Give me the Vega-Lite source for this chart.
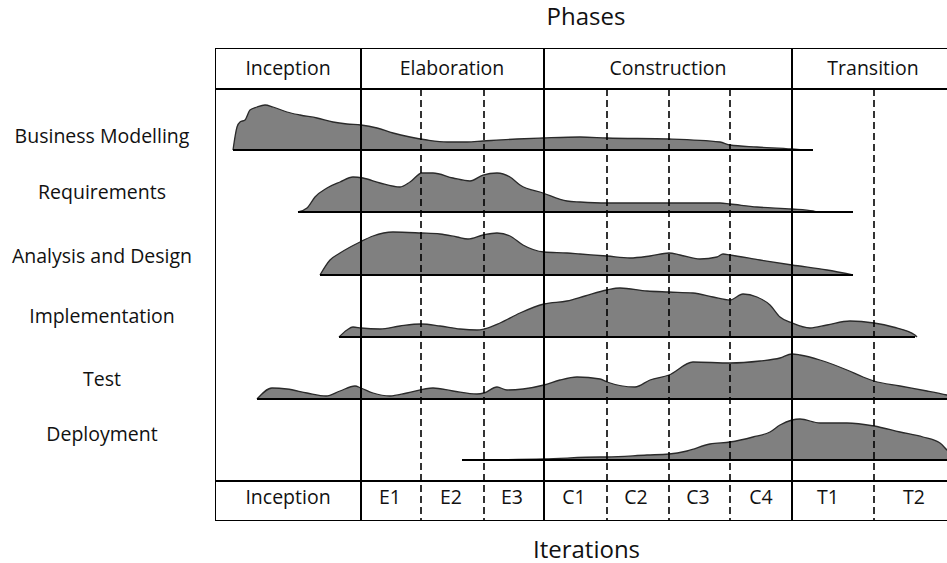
{
  "$schema": "https://vega.github.io/schema/vega-lite/v6.json",
  "width": 732,
  "height": 473,
  "autosize": "none",
  "padding": {"left": 215, "top": 48, "right": 0, "bottom": 42},
  "background": "white",
  "title": {"text": "Phases", "fontSize": 24, "font": "Open Sans", "fontWeight": "normal", "color": "#111", "anchor": "middle", "baseline": "alphabetic", "offset": -1, "dx": 5},
  "config": {
    "view": {"stroke": null},
    "axisX": {"labels": false, "ticks": false, "domain": false, "grid": false, "titleFontSize": 24, "titleFont": "Open Sans", "titleFontWeight": "normal", "titleColor": "#111", "titlePadding": 17, "titleX": 371, "titleAlign": "center"},
    "text": {"font": "Open Sans"}
  },
  "datasets": {
    "humps": [
      {"activity": "Business Modelling", "t": 18, "top": 102, "base": 102},
      {"activity": "Business Modelling", "t": 22, "top": 79, "base": 102},
      {"activity": "Business Modelling", "t": 25, "top": 74, "base": 102},
      {"activity": "Business Modelling", "t": 30, "top": 72, "base": 102},
      {"activity": "Business Modelling", "t": 35, "top": 62, "base": 102},
      {"activity": "Business Modelling", "t": 42, "top": 59, "base": 102},
      {"activity": "Business Modelling", "t": 50, "top": 57, "base": 102},
      {"activity": "Business Modelling", "t": 58, "top": 59, "base": 102},
      {"activity": "Business Modelling", "t": 72, "top": 64, "base": 102},
      {"activity": "Business Modelling", "t": 85, "top": 67, "base": 102},
      {"activity": "Business Modelling", "t": 102, "top": 70, "base": 102},
      {"activity": "Business Modelling", "t": 118, "top": 74, "base": 102},
      {"activity": "Business Modelling", "t": 132, "top": 76, "base": 102},
      {"activity": "Business Modelling", "t": 146, "top": 77, "base": 102},
      {"activity": "Business Modelling", "t": 162, "top": 80, "base": 102},
      {"activity": "Business Modelling", "t": 178, "top": 85, "base": 102},
      {"activity": "Business Modelling", "t": 195, "top": 89, "base": 102},
      {"activity": "Business Modelling", "t": 212, "top": 92, "base": 102},
      {"activity": "Business Modelling", "t": 232, "top": 94, "base": 102},
      {"activity": "Business Modelling", "t": 252, "top": 94, "base": 102},
      {"activity": "Business Modelling", "t": 268, "top": 93, "base": 102},
      {"activity": "Business Modelling", "t": 302, "top": 91, "base": 102},
      {"activity": "Business Modelling", "t": 328, "top": 90, "base": 102},
      {"activity": "Business Modelling", "t": 365, "top": 89, "base": 102},
      {"activity": "Business Modelling", "t": 392, "top": 90, "base": 102},
      {"activity": "Business Modelling", "t": 454, "top": 91, "base": 102},
      {"activity": "Business Modelling", "t": 505, "top": 94, "base": 102},
      {"activity": "Business Modelling", "t": 515, "top": 97, "base": 102},
      {"activity": "Business Modelling", "t": 542, "top": 99, "base": 102},
      {"activity": "Business Modelling", "t": 577, "top": 101, "base": 102},
      {"activity": "Business Modelling", "t": 588, "top": 102, "base": 102},

      {"activity": "Requirements", "t": 83, "top": 164, "base": 164},
      {"activity": "Requirements", "t": 92, "top": 160, "base": 164},
      {"activity": "Requirements", "t": 100, "top": 149, "base": 164},
      {"activity": "Requirements", "t": 112, "top": 140, "base": 164},
      {"activity": "Requirements", "t": 125, "top": 134, "base": 164},
      {"activity": "Requirements", "t": 138, "top": 129, "base": 164},
      {"activity": "Requirements", "t": 148, "top": 130, "base": 164},
      {"activity": "Requirements", "t": 165, "top": 135, "base": 164},
      {"activity": "Requirements", "t": 185, "top": 139, "base": 164},
      {"activity": "Requirements", "t": 195, "top": 134, "base": 164},
      {"activity": "Requirements", "t": 207, "top": 125, "base": 164},
      {"activity": "Requirements", "t": 218, "top": 125, "base": 164},
      {"activity": "Requirements", "t": 238, "top": 130, "base": 164},
      {"activity": "Requirements", "t": 255, "top": 133, "base": 164},
      {"activity": "Requirements", "t": 268, "top": 127, "base": 164},
      {"activity": "Requirements", "t": 282, "top": 125, "base": 164},
      {"activity": "Requirements", "t": 295, "top": 129, "base": 164},
      {"activity": "Requirements", "t": 305, "top": 137, "base": 164},
      {"activity": "Requirements", "t": 328, "top": 145, "base": 164},
      {"activity": "Requirements", "t": 352, "top": 153, "base": 164},
      {"activity": "Requirements", "t": 365, "top": 154, "base": 164},
      {"activity": "Requirements", "t": 392, "top": 155, "base": 164},
      {"activity": "Requirements", "t": 454, "top": 155, "base": 164},
      {"activity": "Requirements", "t": 505, "top": 155, "base": 164},
      {"activity": "Requirements", "t": 515, "top": 156, "base": 164},
      {"activity": "Requirements", "t": 542, "top": 159, "base": 164},
      {"activity": "Requirements", "t": 577, "top": 161, "base": 164},
      {"activity": "Requirements", "t": 598, "top": 163, "base": 164},
      {"activity": "Requirements", "t": 602, "top": 164, "base": 164},

      {"activity": "Analysis and Design", "t": 105, "top": 227, "base": 227},
      {"activity": "Analysis and Design", "t": 115, "top": 212, "base": 227},
      {"activity": "Analysis and Design", "t": 125, "top": 205, "base": 227},
      {"activity": "Analysis and Design", "t": 145, "top": 194, "base": 227},
      {"activity": "Analysis and Design", "t": 158, "top": 188, "base": 227},
      {"activity": "Analysis and Design", "t": 178, "top": 184, "base": 227},
      {"activity": "Analysis and Design", "t": 206, "top": 185, "base": 227},
      {"activity": "Analysis and Design", "t": 225, "top": 186, "base": 227},
      {"activity": "Analysis and Design", "t": 242, "top": 189, "base": 227},
      {"activity": "Analysis and Design", "t": 253, "top": 191, "base": 227},
      {"activity": "Analysis and Design", "t": 268, "top": 187, "base": 227},
      {"activity": "Analysis and Design", "t": 282, "top": 185, "base": 227},
      {"activity": "Analysis and Design", "t": 295, "top": 188, "base": 227},
      {"activity": "Analysis and Design", "t": 308, "top": 197, "base": 227},
      {"activity": "Analysis and Design", "t": 329, "top": 204, "base": 227},
      {"activity": "Analysis and Design", "t": 352, "top": 205, "base": 227},
      {"activity": "Analysis and Design", "t": 365, "top": 206, "base": 227},
      {"activity": "Analysis and Design", "t": 392, "top": 208, "base": 227},
      {"activity": "Analysis and Design", "t": 415, "top": 210, "base": 227},
      {"activity": "Analysis and Design", "t": 435, "top": 208, "base": 227},
      {"activity": "Analysis and Design", "t": 454, "top": 205, "base": 227},
      {"activity": "Analysis and Design", "t": 465, "top": 207, "base": 227},
      {"activity": "Analysis and Design", "t": 485, "top": 211, "base": 227},
      {"activity": "Analysis and Design", "t": 502, "top": 209, "base": 227},
      {"activity": "Analysis and Design", "t": 508, "top": 206, "base": 227},
      {"activity": "Analysis and Design", "t": 515, "top": 207, "base": 227},
      {"activity": "Analysis and Design", "t": 545, "top": 212, "base": 227},
      {"activity": "Analysis and Design", "t": 577, "top": 217, "base": 227},
      {"activity": "Analysis and Design", "t": 612, "top": 222, "base": 227},
      {"activity": "Analysis and Design", "t": 638, "top": 227, "base": 227},

      {"activity": "Implementation", "t": 124, "top": 289, "base": 289},
      {"activity": "Implementation", "t": 132, "top": 282, "base": 289},
      {"activity": "Implementation", "t": 138, "top": 279, "base": 289},
      {"activity": "Implementation", "t": 146, "top": 280, "base": 289},
      {"activity": "Implementation", "t": 165, "top": 281, "base": 289},
      {"activity": "Implementation", "t": 185, "top": 278, "base": 289},
      {"activity": "Implementation", "t": 206, "top": 276, "base": 289},
      {"activity": "Implementation", "t": 225, "top": 278, "base": 289},
      {"activity": "Implementation", "t": 245, "top": 281, "base": 289},
      {"activity": "Implementation", "t": 262, "top": 282, "base": 289},
      {"activity": "Implementation", "t": 269, "top": 281, "base": 289},
      {"activity": "Implementation", "t": 285, "top": 275, "base": 289},
      {"activity": "Implementation", "t": 305, "top": 265, "base": 289},
      {"activity": "Implementation", "t": 329, "top": 256, "base": 289},
      {"activity": "Implementation", "t": 352, "top": 253, "base": 289},
      {"activity": "Implementation", "t": 370, "top": 248, "base": 289},
      {"activity": "Implementation", "t": 392, "top": 242, "base": 289},
      {"activity": "Implementation", "t": 405, "top": 240, "base": 289},
      {"activity": "Implementation", "t": 432, "top": 243, "base": 289},
      {"activity": "Implementation", "t": 454, "top": 244, "base": 289},
      {"activity": "Implementation", "t": 478, "top": 245, "base": 289},
      {"activity": "Implementation", "t": 498, "top": 249, "base": 289},
      {"activity": "Implementation", "t": 515, "top": 252, "base": 289},
      {"activity": "Implementation", "t": 528, "top": 246, "base": 289},
      {"activity": "Implementation", "t": 542, "top": 249, "base": 289},
      {"activity": "Implementation", "t": 555, "top": 257, "base": 289},
      {"activity": "Implementation", "t": 565, "top": 269, "base": 289},
      {"activity": "Implementation", "t": 577, "top": 275, "base": 289},
      {"activity": "Implementation", "t": 595, "top": 280, "base": 289},
      {"activity": "Implementation", "t": 612, "top": 277, "base": 289},
      {"activity": "Implementation", "t": 635, "top": 273, "base": 289},
      {"activity": "Implementation", "t": 659, "top": 275, "base": 289},
      {"activity": "Implementation", "t": 678, "top": 279, "base": 289},
      {"activity": "Implementation", "t": 700, "top": 287, "base": 289},
      {"activity": "Implementation", "t": 702, "top": 289, "base": 289},

      {"activity": "Test", "t": 42, "top": 351, "base": 351},
      {"activity": "Test", "t": 57, "top": 340, "base": 351},
      {"activity": "Test", "t": 72, "top": 341, "base": 351},
      {"activity": "Test", "t": 92, "top": 345, "base": 351},
      {"activity": "Test", "t": 111, "top": 348, "base": 351},
      {"activity": "Test", "t": 125, "top": 343, "base": 351},
      {"activity": "Test", "t": 140, "top": 338, "base": 351},
      {"activity": "Test", "t": 146, "top": 340, "base": 351},
      {"activity": "Test", "t": 158, "top": 345, "base": 351},
      {"activity": "Test", "t": 175, "top": 348, "base": 351},
      {"activity": "Test", "t": 192, "top": 345, "base": 351},
      {"activity": "Test", "t": 218, "top": 340, "base": 351},
      {"activity": "Test", "t": 238, "top": 343, "base": 351},
      {"activity": "Test", "t": 262, "top": 346, "base": 351},
      {"activity": "Test", "t": 269, "top": 345, "base": 351},
      {"activity": "Test", "t": 282, "top": 339, "base": 351},
      {"activity": "Test", "t": 292, "top": 342, "base": 351},
      {"activity": "Test", "t": 308, "top": 341, "base": 351},
      {"activity": "Test", "t": 329, "top": 337, "base": 351},
      {"activity": "Test", "t": 345, "top": 332, "base": 351},
      {"activity": "Test", "t": 362, "top": 329, "base": 351},
      {"activity": "Test", "t": 385, "top": 331, "base": 351},
      {"activity": "Test", "t": 392, "top": 334, "base": 351},
      {"activity": "Test", "t": 420, "top": 339, "base": 351},
      {"activity": "Test", "t": 435, "top": 332, "base": 351},
      {"activity": "Test", "t": 454, "top": 327, "base": 351},
      {"activity": "Test", "t": 478, "top": 314, "base": 351},
      {"activity": "Test", "t": 515, "top": 315, "base": 351},
      {"activity": "Test", "t": 545, "top": 313, "base": 351},
      {"activity": "Test", "t": 565, "top": 310, "base": 351},
      {"activity": "Test", "t": 577, "top": 306, "base": 351},
      {"activity": "Test", "t": 585, "top": 307, "base": 351},
      {"activity": "Test", "t": 605, "top": 312, "base": 351},
      {"activity": "Test", "t": 632, "top": 322, "base": 351},
      {"activity": "Test", "t": 648, "top": 329, "base": 351},
      {"activity": "Test", "t": 659, "top": 333, "base": 351},
      {"activity": "Test", "t": 685, "top": 338, "base": 351},
      {"activity": "Test", "t": 712, "top": 343, "base": 351},
      {"activity": "Test", "t": 732, "top": 347, "base": 351},
      {"activity": "Test", "t": 741, "top": 349, "base": 351},

      {"activity": "Deployment", "t": 247, "top": 412, "base": 412},
      {"activity": "Deployment", "t": 329, "top": 411, "base": 412},
      {"activity": "Deployment", "t": 385, "top": 409, "base": 412},
      {"activity": "Deployment", "t": 392, "top": 409, "base": 412},
      {"activity": "Deployment", "t": 432, "top": 407, "base": 412},
      {"activity": "Deployment", "t": 454, "top": 406, "base": 412},
      {"activity": "Deployment", "t": 472, "top": 403, "base": 412},
      {"activity": "Deployment", "t": 495, "top": 396, "base": 412},
      {"activity": "Deployment", "t": 515, "top": 394, "base": 412},
      {"activity": "Deployment", "t": 538, "top": 389, "base": 412},
      {"activity": "Deployment", "t": 555, "top": 384, "base": 412},
      {"activity": "Deployment", "t": 565, "top": 377, "base": 412},
      {"activity": "Deployment", "t": 577, "top": 372, "base": 412},
      {"activity": "Deployment", "t": 585, "top": 371, "base": 412},
      {"activity": "Deployment", "t": 605, "top": 375, "base": 412},
      {"activity": "Deployment", "t": 632, "top": 375, "base": 412},
      {"activity": "Deployment", "t": 659, "top": 378, "base": 412},
      {"activity": "Deployment", "t": 685, "top": 384, "base": 412},
      {"activity": "Deployment", "t": 708, "top": 389, "base": 412},
      {"activity": "Deployment", "t": 725, "top": 395, "base": 412},
      {"activity": "Deployment", "t": 732, "top": 402, "base": 412},
      {"activity": "Deployment", "t": 741, "top": 410, "base": 412}
    ],
    "solidLines": [
      {"x": 0, "x2": 741, "y": 0, "y2": 0},
      {"x": 0, "x2": 741, "y": 41, "y2": 41},
      {"x": 0, "x2": 741, "y": 433, "y2": 433},
      {"x": 0, "x2": 741, "y": 473, "y2": 473},
      {"x": 0, "x2": 0, "y": 0, "y2": 473},
      {"x": 146, "x2": 146, "y": 0, "y2": 473},
      {"x": 329, "x2": 329, "y": 0, "y2": 473},
      {"x": 577, "x2": 577, "y": 0, "y2": 473}
    ],
    "dashedLines": [
      {"x": 206, "x2": 206, "y": 41, "y2": 473},
      {"x": 269, "x2": 269, "y": 41, "y2": 473},
      {"x": 392, "x2": 392, "y": 41, "y2": 473},
      {"x": 454, "x2": 454, "y": 41, "y2": 473},
      {"x": 515, "x2": 515, "y": 41, "y2": 473},
      {"x": 659, "x2": 659, "y": 41, "y2": 473}
    ],
    "baselines": [
      {"activity": "Business Modelling", "x": 18, "x2": 598, "y": 102},
      {"activity": "Requirements", "x": 83, "x2": 638, "y": 164},
      {"activity": "Analysis and Design", "x": 105, "x2": 638, "y": 227},
      {"activity": "Implementation", "x": 124, "x2": 700, "y": 289},
      {"activity": "Test", "x": 42, "x2": 741, "y": 351},
      {"activity": "Deployment", "x": 247, "x2": 741, "y": 412}
    ],
    "labels": [
      {"label": "Business Modelling", "x": -113, "y": 89},
      {"label": "Requirements", "x": -113, "y": 145},
      {"label": "Analysis and Design", "x": -113, "y": 209},
      {"label": "Implementation", "x": -113, "y": 269},
      {"label": "Test", "x": -113, "y": 332},
      {"label": "Deployment", "x": -113, "y": 387},
      {"label": "Inception", "x": 73, "y": 21},
      {"label": "Elaboration", "x": 237, "y": 21},
      {"label": "Construction", "x": 453, "y": 21},
      {"label": "Transition", "x": 658, "y": 21},
      {"label": "Inception", "x": 73, "y": 450},
      {"label": "E1", "x": 175, "y": 450},
      {"label": "E2", "x": 236, "y": 450},
      {"label": "E3", "x": 297, "y": 450},
      {"label": "C1", "x": 359, "y": 450},
      {"label": "C2", "x": 421, "y": 450},
      {"label": "C3", "x": 483, "y": 450},
      {"label": "C4", "x": 546, "y": 450},
      {"label": "T1", "x": 613, "y": 450},
      {"label": "T2", "x": 699, "y": 450}
    ]
  },
  "layer": [
    {
      "data": {"name": "humps"},
      "mark": {"type": "area", "color": "#808080", "opacity": 1, "interpolate": "monotone", "clip": true, "line": {"color": "#2a2a2a", "strokeWidth": 1.3, "interpolate": "monotone"}},
      "encoding": {
        "x": {"field": "t", "type": "quantitative", "title": "Iterations", "scale": {"domain": [0, 732], "nice": false, "zero": false}},
        "y": {"field": "top", "type": "quantitative", "stack": null, "axis": null, "scale": {"domain": [0, 473], "nice": false, "zero": false, "reverse": true}},
        "y2": {"field": "base"},
        "detail": {"field": "activity"}
      }
    },
    {
      "data": {"name": "solidLines"},
      "mark": {"type": "rule", "color": "#000", "strokeWidth": 2, "clip": true},
      "encoding": {
        "x": {"field": "x", "type": "quantitative", "title": "Iterations", "scale": {"domain": [0, 732], "nice": false, "zero": false}},
        "x2": {"field": "x2"},
        "y": {"field": "y", "type": "quantitative", "axis": null, "scale": {"domain": [0, 473], "nice": false, "zero": false, "reverse": true}},
        "y2": {"field": "y2"}
      }
    },
    {
      "data": {"name": "dashedLines"},
      "mark": {"type": "rule", "color": "#000", "strokeWidth": 1.6, "strokeDash": [7, 4], "clip": true},
      "encoding": {
        "x": {"field": "x", "type": "quantitative", "title": "Iterations", "scale": {"domain": [0, 732], "nice": false, "zero": false}},
        "x2": {"field": "x2"},
        "y": {"field": "y", "type": "quantitative", "axis": null, "scale": {"domain": [0, 473], "nice": false, "zero": false, "reverse": true}},
        "y2": {"field": "y2"}
      }
    },
    {
      "data": {"name": "baselines"},
      "mark": {"type": "rule", "color": "#000", "strokeWidth": 2, "clip": true},
      "encoding": {
        "x": {"field": "x", "type": "quantitative", "title": "Iterations", "scale": {"domain": [0, 732], "nice": false, "zero": false}},
        "x2": {"field": "x2"},
        "y": {"field": "y", "type": "quantitative", "axis": null, "scale": {"domain": [0, 473], "nice": false, "zero": false, "reverse": true}}
      }
    },
    {
      "data": {"name": "labels"},
      "mark": {"type": "text", "font": "Open Sans", "fontSize": 19.5, "color": "#111", "align": "center", "baseline": "middle"},
      "encoding": {
        "x": {"field": "x", "type": "quantitative", "title": "Iterations", "scale": {"domain": [0, 732], "nice": false, "zero": false}},
        "y": {"field": "y", "type": "quantitative", "axis": null, "scale": {"domain": [0, 473], "nice": false, "zero": false, "reverse": true}},
        "text": {"field": "label"}
      }
    }
  ]
}
